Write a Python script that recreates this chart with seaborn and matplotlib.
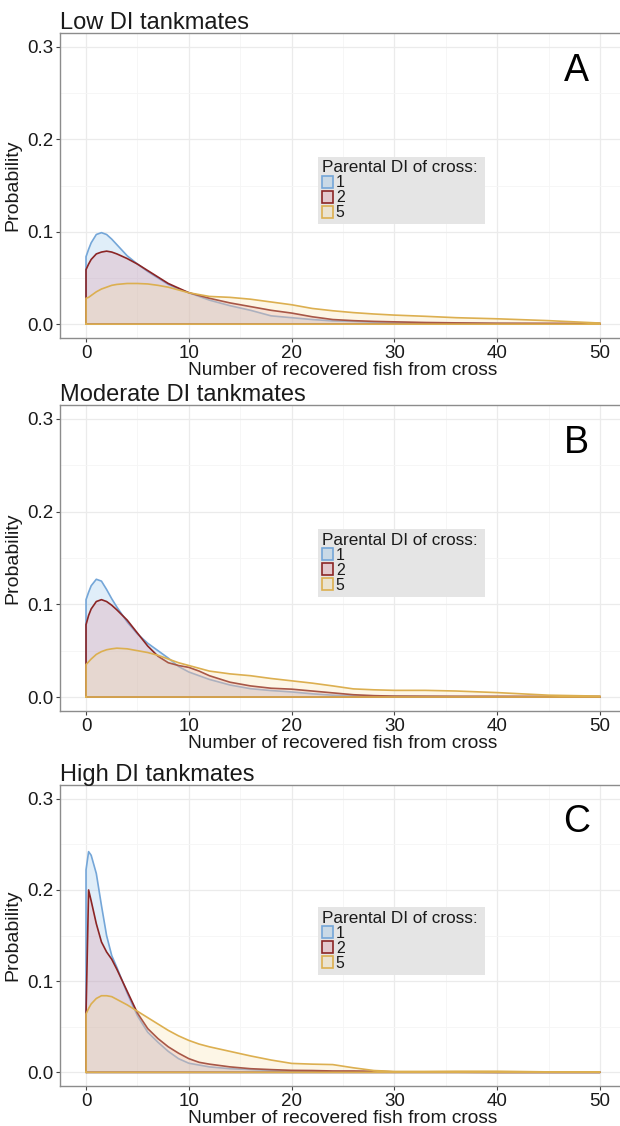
import matplotlib
matplotlib.use("Agg")
import matplotlib.pyplot as plt
from matplotlib.patches import Patch
from matplotlib.ticker import MultipleLocator, FormatStrFormatter
import seaborn as sns

x_grid = [0, 0.25, 0.5, 1, 1.5, 2, 2.5, 3, 4, 5, 6, 7, 8, 9, 10, 11, 12, 14, 16, 18,
          20, 22, 24, 26, 28, 30, 33, 36, 40, 45, 50]

# A - low DI tankmates
low_di1 = [0.073, 0.081, 0.088, 0.097, 0.099, 0.097, 0.092, 0.086, 0.074, 0.065, 0.057,
           0.050, 0.043, 0.038, 0.034, 0.030, 0.026, 0.020, 0.015, 0.009, 0.007, 0.005,
           0.0035, 0.003, 0.002, 0.0018, 0.0013, 0.001, 0.0006, 0.0004, 0.0003]
low_di2 = [0.059, 0.065, 0.070, 0.076, 0.078, 0.079, 0.078, 0.076, 0.071, 0.065, 0.058,
           0.051, 0.044, 0.039, 0.034, 0.031, 0.028, 0.023, 0.019, 0.015, 0.012, 0.008,
           0.005, 0.0038, 0.003, 0.0025, 0.0018, 0.0014, 0.001, 0.0009, 0.0008]
low_di5 = [0.028, 0.029, 0.031, 0.035, 0.038, 0.040, 0.042, 0.043, 0.044, 0.044, 0.0435,
           0.042, 0.040, 0.037, 0.034, 0.032, 0.030, 0.029, 0.027, 0.024, 0.021, 0.017,
           0.0145, 0.0125, 0.011, 0.0098, 0.0085, 0.007, 0.0058, 0.0038, 0.0012]

# B - moderate DI tankmates
mod_di1 = [0.105, 0.113, 0.120, 0.127, 0.125, 0.116, 0.106, 0.097, 0.081, 0.068, 0.058,
           0.050, 0.042, 0.033, 0.027, 0.023, 0.019, 0.013, 0.009, 0.007, 0.0055, 0.0035,
           0.002, 0.0013, 0.001, 0.0008, 0.0005, 0.0004, 0.0003, 0.0002, 0.0001]
mod_di2 = [0.078, 0.088, 0.095, 0.103, 0.105, 0.103, 0.099, 0.094, 0.083, 0.069, 0.055,
           0.044, 0.037, 0.034, 0.032, 0.028, 0.023, 0.016, 0.012, 0.0095, 0.0085, 0.0065,
           0.0045, 0.0025, 0.0015, 0.001, 0.0009, 0.0008, 0.0008, 0.0007, 0.0006]
mod_di5 = [0.035, 0.038, 0.041, 0.046, 0.049, 0.051, 0.052, 0.0527, 0.052, 0.050, 0.048,
           0.045, 0.041, 0.037, 0.034, 0.031, 0.028, 0.025, 0.023, 0.020, 0.0175, 0.015,
           0.012, 0.0088, 0.0078, 0.0072, 0.0072, 0.0065, 0.0048, 0.002, 0.001]

# C - high DI tankmates
high_di1 = [0.222, 0.242, 0.238, 0.218, 0.183, 0.150, 0.128, 0.115, 0.087, 0.062, 0.044,
            0.033, 0.023, 0.015, 0.010, 0.008, 0.006, 0.004, 0.003, 0.002, 0.0012, 0.0008,
            0.0006, 0.0005, 0.0004, 0.0003, 0.0002, 0.0002, 0.0001, 0.0001, 0.0001]
high_di2 = [0.065, 0.200, 0.188, 0.163, 0.143, 0.132, 0.124, 0.113, 0.089, 0.065, 0.048,
            0.037, 0.028, 0.021, 0.015, 0.011, 0.009, 0.006, 0.004, 0.003, 0.0022, 0.002,
            0.0015, 0.0015, 0.0012, 0.0005, 0.0002, 0.0002, 0.0001, 0.0001, 0.0001]
high_di5 = [0.064, 0.070, 0.075, 0.081, 0.084, 0.084, 0.083, 0.080, 0.074, 0.067, 0.060,
            0.053, 0.046, 0.040, 0.035, 0.031, 0.028, 0.023, 0.018, 0.0135, 0.0098, 0.009,
            0.0085, 0.005, 0.002, 0.001, 0.001, 0.0012, 0.0012, 0.0005, 0.0002]

panel_titles = ["Low DI tankmates", "Moderate DI tankmates", "High DI tankmates"]
panel_letters = ["A", "B", "C"]
cross_labels = ["1", "2", "5"]
panel_curves = [[low_di1, low_di2, low_di5],
                [mod_di1, mod_di2, mod_di5],
                [high_di1, high_di2, high_di5]]

line_colors = ["#74a6d8", "#8b2525", "#dcaf50"]
fill_colors = ["#8fc1ea", "#e18e9e", "#f8e1a5"]
fill_alpha = 0.27

sns.set_theme(style="whitegrid")
plt.rcParams["font.family"] = ["Liberation Sans", "DejaVu Sans"]

fig = plt.figure(figsize=(6.2, 11.26), dpi=100)
# [left, bottom, width, height] in figure fraction, right edge runs off the canvas like the source
boxes = [[0.0973, 0.6998, 0.912, 0.2709],
         [0.0973, 0.3686, 0.912, 0.2718],
         [0.0973, 0.0355, 0.912, 0.2673]]

for box, title, letter, curves in zip(boxes, panel_titles, panel_letters, panel_curves):
    ax = fig.add_axes(box)
    ax.set_facecolor("white")
    ax.set_axisbelow(True)

    for k, ys in enumerate(curves):
        # closed outline: up the x=0 edge, along the curve, down at 50, back along y=0
        px = [0] + x_grid + [50, 0]
        py = [0] + ys + [0, 0]
        ax.fill(px, py, color=fill_colors[k], alpha=fill_alpha, lw=0, zorder=2 + 2 * k)
        sns.lineplot(x=px, y=py, sort=False, estimator=None, color=line_colors[k],
                     lw=1.2, ax=ax, zorder=3 + 2 * k)

    ax.set_xlim(-2.5, 52.5)
    ax.set_ylim(-0.015, 0.315)
    ax.xaxis.set_major_locator(MultipleLocator(10))
    ax.xaxis.set_minor_locator(MultipleLocator(5))
    ax.yaxis.set_major_locator(MultipleLocator(0.1))
    ax.yaxis.set_minor_locator(MultipleLocator(0.05))
    ax.yaxis.set_major_formatter(FormatStrFormatter("%.1f"))
    ax.grid(which="major", color="#ebebeb", lw=0.9)
    ax.grid(which="minor", color="#f5f5f5", lw=0.6)
    ax.tick_params(which="major", length=3, width=0.8, color="#444444",
                   labelsize=13.5, labelcolor="#1a1a1a", pad=2, bottom=True, left=True)
    ax.tick_params(which="minor", length=0)
    for s in ax.spines.values():
        s.set_color("#8c8c8c")
        s.set_linewidth(1.0)

    ax.set_xlabel("Number of recovered fish from cross", fontsize=13.8, color="#1a1a1a", labelpad=0)
    ax.set_ylabel("Probability", fontsize=14, color="#1a1a1a", labelpad=4)
    ax.set_title(title, loc="left", fontsize=17, color="#1a1a1a", pad=3)
    ax.text(47.7, 0.274, letter, fontsize=27, ha="center", va="center", color="black")

    handles = [Patch(facecolor=matplotlib.colors.to_rgba(fill_colors[k], fill_alpha + 0.05),
                     edgecolor=line_colors[k], lw=1.2)
               for k in range(3)]
    leg = ax.legend(handles, cross_labels, title="Parental DI of cross:",
                    loc="upper left", bbox_to_anchor=(0.455, 0.595, 0.296, 0.0), mode="expand",
                    frameon=True, fancybox=False, facecolor="#e5e5e5", edgecolor="none",
                    framealpha=1, fontsize=11.4, title_fontsize=12.3, alignment="left",
                    borderpad=0.25, handlelength=0.75, handleheight=0.8,
                    handletextpad=0.15, labelspacing=0.0, borderaxespad=0)
    for t in leg.get_texts():
        t.set_color("#1a1a1a")
    leg.get_title().set_color("#1a1a1a")

fig.savefig("out.png", dpi=100)
